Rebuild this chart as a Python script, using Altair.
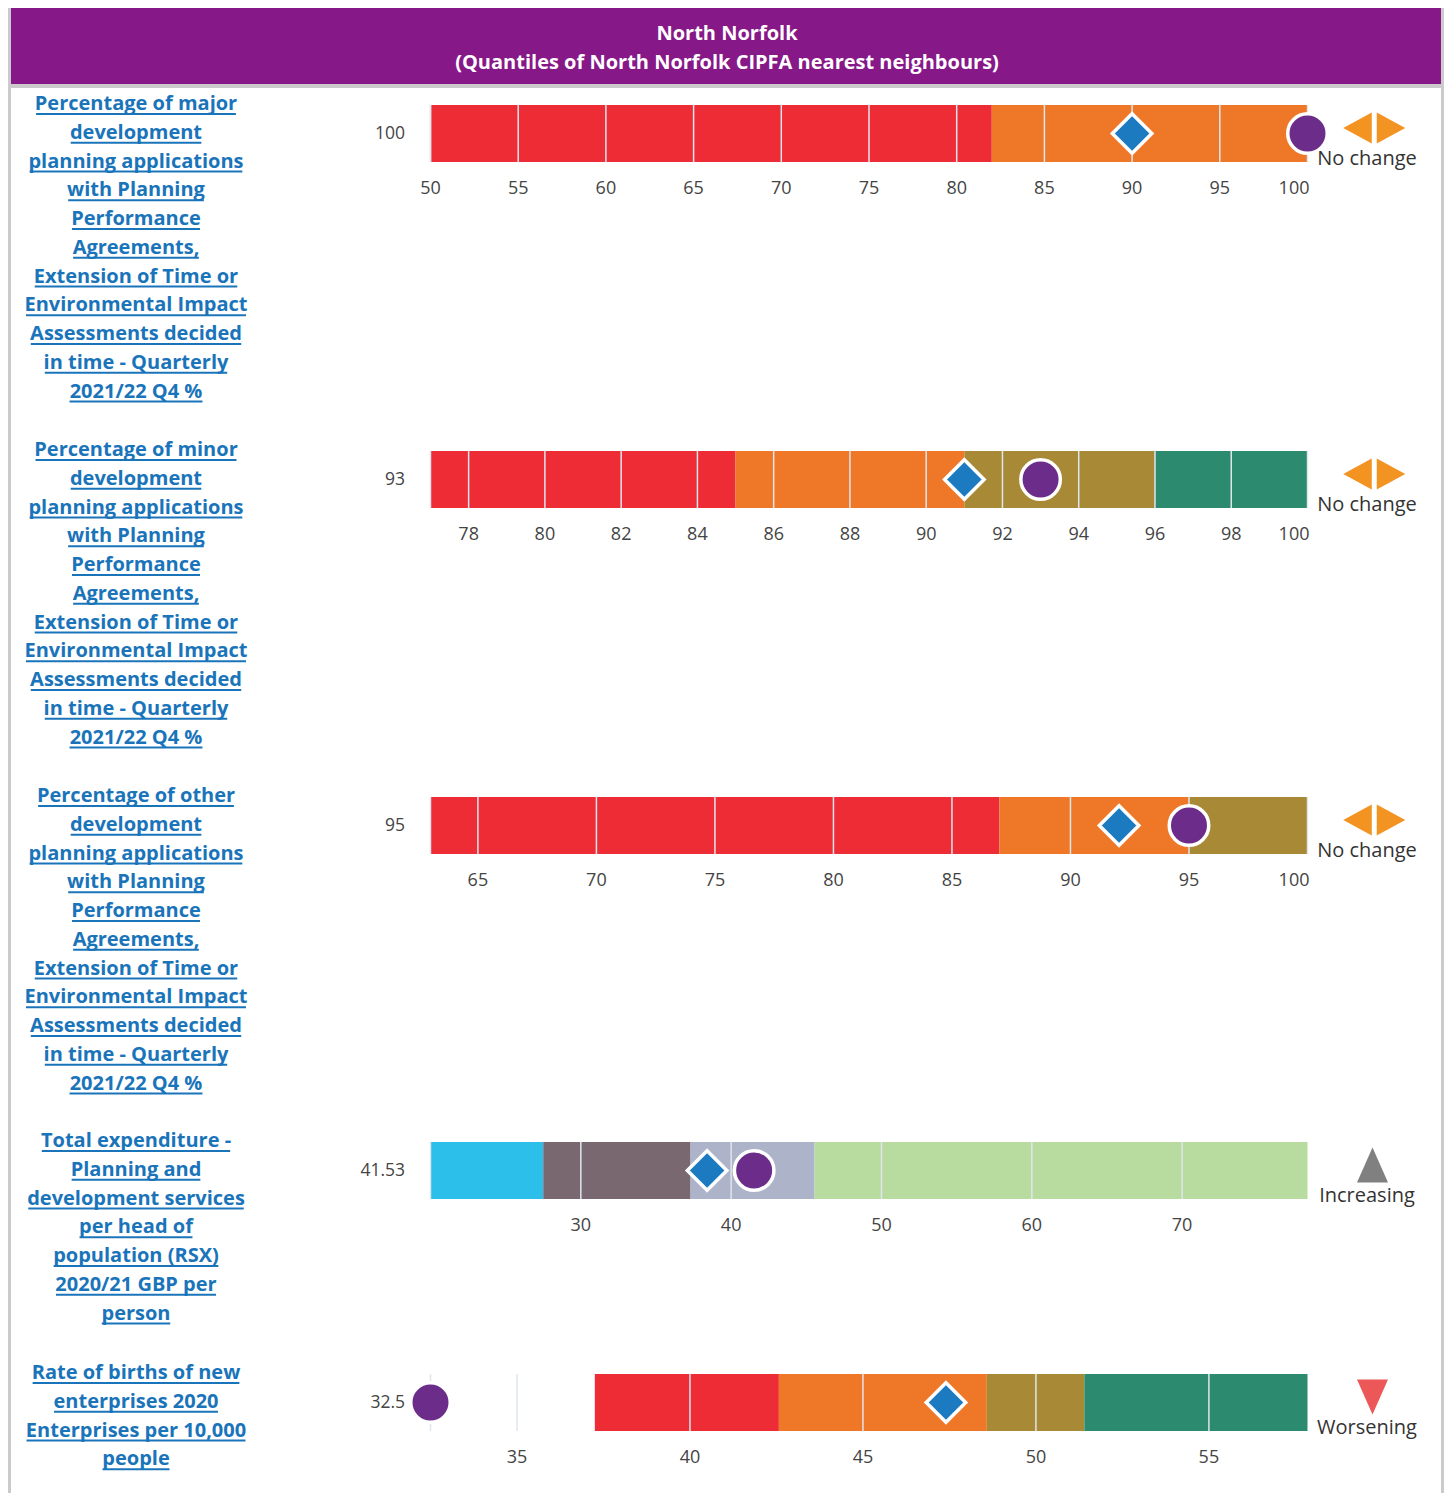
import altair as alt
import pandas as pd

FONT = "Open Sans"

# ---------------- data ----------------
header_title = "North Norfolk"
header_subtitle = "(Quantiles of North Norfolk CIPFA nearest neighbours)"

indicator_lines = [
    ["Percentage of major", "development", "planning applications", "with Planning",
     "Performance", "Agreements,", "Extension of Time or", "Environmental Impact",
     "Assessments decided", "in time - Quarterly", "2021/22 Q4 %"],
    ["Percentage of minor", "development", "planning applications", "with Planning",
     "Performance", "Agreements,", "Extension of Time or", "Environmental Impact",
     "Assessments decided", "in time - Quarterly", "2021/22 Q4 %"],
    ["Percentage of other", "development", "planning applications", "with Planning",
     "Performance", "Agreements,", "Extension of Time or", "Environmental Impact",
     "Assessments decided", "in time - Quarterly", "2021/22 Q4 %"],
    ["Total expenditure -", "Planning and", "development services", "per head of",
     "population (RSX)", "2020/21 GBP per", "person"],
    ["Rate of births of new", "enterprises 2020", "Enterprises per 10,000", "people"],
]

values = [100, 93, 95, 41.53, 32.5]
value_labels = ["100", "93", "95", "41.53", "32.5"]
medians = [90, 91, 92.05, 38.4, 47.4]
domains = [(50, 100), (77, 100), (63, 100), (20, 78.34), (32.5, 57.85)]

RED = "#ee2c36"
ORANGE = "#ef7728"
OLIVE = "#a88935"
TEAL = "#2c8a6e"
CYAN = "#2bbfe9"
MAUVE = "#7a6870"
LAV = "#adb3c8"
LGREEN = "#b8dba0"

seg_bounds = [
    [50, 82, 100],
    [77, 85, 91, 96, 100],
    [63, 87, 95, 100],
    [20, 27.5, 37.3, 45.55, 78.34],
    [37.25, 42.57, 48.58, 51.4, 57.85],
]
seg_colors = [
    [RED, ORANGE],
    [RED, ORANGE, OLIVE, TEAL],
    [RED, ORANGE, OLIVE],
    [CYAN, MAUVE, LAV, LGREEN],
    [RED, ORANGE, OLIVE, TEAL],
]
tick_values = [
    [50, 55, 60, 65, 70, 75, 80, 85, 90, 95, 100],
    [78, 80, 82, 84, 86, 88, 90, 92, 94, 96, 98, 100],
    [65, 70, 75, 80, 85, 90, 95, 100],
    [30, 40, 50, 60, 70],
    [35, 40, 45, 50, 55],
]
trends = ["No change", "No change", "No change", "Increasing", "Worsening"]

# ---------------- style / layout ----------------
PURPLE_HEAD = "#861888"
LINK_BLUE = "#1a74ba"
DIAMOND_BLUE = "#1c7bc0"
CIRCLE_PURPLE = "#6c2c89"
GRID = "#e0e5ee"
TXT = "#444444"

W = 1430
X0, X1 = 419.5, 1296.5
BAR_TOP, BAR_BOT = 17, 74
BAR_MID = (BAR_TOP + BAR_BOT) / 2
LH = 28.75
TITLE_FS = 20
TITLE_X = 125
TITLE_Y = 16
row_heights = [346, 346, 345, 232, 136]

TRI_LEFT = "M-0.92,0L0.92,-1L0.92,1Z"
TRI_RIGHT = "M0.92,0L-0.92,-1L-0.92,1Z"
TRI_UP = "M0,-1L0.886,1L-0.886,1Z"
TRI_DOWN = "M-0.886,-1L0.886,-1L0,1Z"

trend_icons = {
    "No change": [(TRI_LEFT, "#f39321", 1346.5, 961), (TRI_RIGHT, "#f39321", 1380, 961)],
    "Increasing": [(TRI_UP, "#808080", 1361.5, 1225)],
    "Worsening": [(TRI_DOWN, "#ec5757", 1361.5, 1225)],
}

# approximate advance widths of a bold sans face (units per 2048 em), used only
# to size the link underlines under each title line
ADV = {" ": 532, "a": 1208, "b": 1290, "c": 1044, "d": 1290, "e": 1196, "f": 801,
       "g": 1128, "h": 1329, "i": 625, "j": 625, "k": 1255, "l": 625, "m": 1974,
       "n": 1329, "o": 1260, "p": 1290, "q": 1290, "r": 928, "s": 1010, "t": 868,
       "u": 1329, "v": 1151, "w": 1720, "x": 1198, "y": 1151, "z": 1008,
       "A": 1468, "E": 1124, "P": 1245, "T": 1159, "Q": 1577, "G": 1397, "B": 1358,
       "R": 1356, "S": 1124, "I": 666, "C": 1262, "X": 1380,
       ",": 580, ".": 600, "-": 659, "/": 887, "%": 1886, "(": 694, ")": 694}


def text_width(s, fs):
    return sum(ADV.get(ch, 1171) for ch in s) / 2048 * fs


one = pd.DataFrame({"a": [0]})


def row_chart(i):
    H = row_heights[i]
    lo, hi = domains[i]
    xs = alt.Scale(domain=[lo, hi], range=[X0, X1], zero=False, nice=False)

    segs = pd.DataFrame({
        "start": seg_bounds[i][:-1],
        "end": seg_bounds[i][1:],
        "color": seg_colors[i],
    })
    bars = alt.Chart(segs).mark_rect().encode(
        x=alt.X("start:Q", scale=xs, axis=None),
        x2="end:Q",
        y=alt.value(BAR_TOP),
        y2=alt.value(BAR_BOT),
        color=alt.Color("color:N", scale=None),
    )

    grid = alt.Chart(pd.DataFrame({"g": [lo] + tick_values[i]})).mark_rule(
        color=GRID, strokeWidth=1.5
    ).encode(
        x=alt.X("g:Q", scale=xs, axis=None),
        y=alt.value(BAR_TOP),
        y2=alt.value(BAR_BOT),
    )

    tick_df = pd.DataFrame({"tv": tick_values[i]})
    tick_mid = alt.Chart(tick_df).transform_filter(f"datum.tv < {hi}").mark_text(
        align="center", baseline="middle", font=FONT, fontSize=18, color=TXT
    ).encode(x=alt.X("tv:Q", scale=xs, axis=None), y=alt.value(101),
             text=alt.Text("tv:Q", format="d"))
    tick_end = alt.Chart(tick_df).transform_filter(f"datum.tv >= {hi}").mark_text(
        align="right", baseline="middle", font=FONT, fontSize=18, color=TXT, dx=2
    ).encode(x=alt.X("tv:Q", scale=xs, axis=None), y=alt.value(101),
             text=alt.Text("tv:Q", format="d"))

    diamond = alt.Chart(pd.DataFrame({"m": [medians[i]]})).mark_point(
        shape="diamond", filled=True, fill=DIAMOND_BLUE, stroke="white",
        strokeWidth=3.5, size=1560, opacity=1
    ).encode(x=alt.X("m:Q", scale=xs, axis=None), y=alt.value(BAR_MID))

    circle = alt.Chart(pd.DataFrame({"v": [values[i]]})).mark_circle(
        color=CIRCLE_PURPLE, stroke="white", strokeWidth=3.5, size=1560, opacity=1
    ).encode(x=alt.X("v:Q", scale=xs, axis=None), y=alt.value(BAR_MID))

    vlabel = alt.Chart(pd.DataFrame({"t": [value_labels[i]]})).mark_text(
        align="right", baseline="middle", font=FONT, fontSize=17.5, color=TXT
    ).encode(x=alt.value(394), y=alt.value(BAR_MID), text="t:N")

    lines = indicator_lines[i]
    title = alt.Chart(one).mark_text(
        text=lines, lineHeight=LH, align="center", baseline="middle",
        font=FONT, fontSize=TITLE_FS, fontWeight="bold", color=LINK_BLUE
    ).encode(x=alt.value(TITLE_X), y=alt.value(TITLE_Y))

    underlines = []
    for k, ln in enumerate(lines):
        half = text_width(ln, TITLE_FS) / 2
        yu = TITLE_Y + k * LH + 10
        underlines.append(alt.Chart(one).mark_rule(color=LINK_BLUE, strokeWidth=1.8).encode(
            x=alt.value(TITLE_X - half), x2=alt.value(TITLE_X + half), y=alt.value(yu)))

    trend_txt = alt.Chart(pd.DataFrame({"t": [trends[i]]})).mark_text(
        align="center", baseline="middle", font=FONT, fontSize=20, color="#333333"
    ).encode(x=alt.value(1356), y=alt.value(71), text="t:N")

    icons = []
    for path, col, xc, sz in trend_icons[trends[i]]:
        icons.append(alt.Chart(one).mark_point(
            shape=path, filled=True, fill=col, size=sz, opacity=1, strokeWidth=0
        ).encode(x=alt.value(xc), y=alt.value(40)))

    return alt.layer(bars, grid, tick_mid, tick_end, diamond, circle, vlabel, title,
                     *underlines, trend_txt, *icons).properties(
        width=W, height=H, view=alt.ViewBackground(fill="white", strokeWidth=0)
    )


header = alt.layer(
    alt.Chart(one).mark_text(text=header_title, font=FONT, fontSize=20, fontWeight="bold",
                             color="white", align="center", baseline="middle"
                             ).encode(x=alt.value(W / 2 + 1), y=alt.value(26)),
    alt.Chart(one).mark_text(text=header_subtitle, font=FONT, fontSize=20, fontWeight="bold",
                             color="white", align="center", baseline="middle"
                             ).encode(x=alt.value(W / 2 + 1), y=alt.value(55)),
).properties(width=W, height=76, view=alt.ViewBackground(fill=PURPLE_HEAD, strokeWidth=0))

rows = alt.vconcat(*[row_chart(i) for i in range(5)], spacing=0, bounds="flush").resolve_scale(
    x="independent"
)

chart = alt.vconcat(header, rows, spacing=4, bounds="flush").properties(
    background="#cbcbcb",
    padding={"left": 3, "right": 3, "top": 0, "bottom": 0},
).configure(font=FONT).configure_view(strokeWidth=0)

chart.save("out.html", embed_options={"renderer": "svg", "actions": False})
